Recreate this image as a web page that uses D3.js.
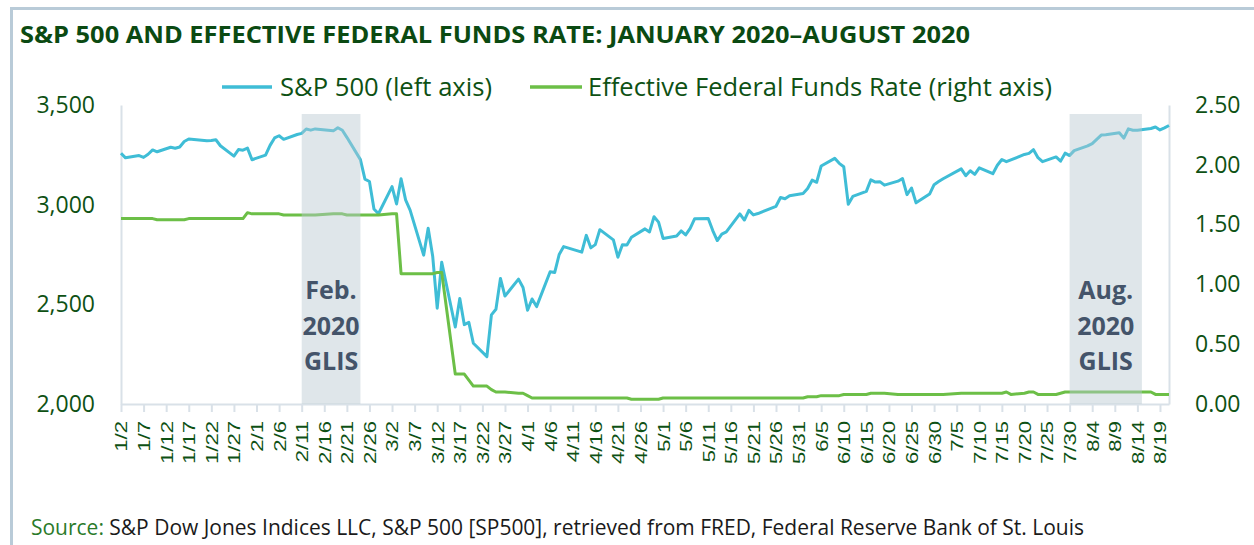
<!DOCTYPE html>
<html>
<head>
<meta charset="utf-8">
<script src="https://cdn.jsdelivr.net/npm/d3@7"></script>
<style>
  html, body { margin: 0; padding: 0; background: #fff; }
  svg { display: block; font-family: "Open Sans", sans-serif; }
</style>
</head>
<body>
<div id="chart"></div>
<script>
// trading days, Jan 2 – Aug 21 2020
const dates = [
  "1/2","1/3","1/6","1/7","1/8","1/9","1/10","1/13","1/14","1/15","1/16","1/17","1/21","1/22","1/23","1/24","1/27","1/28","1/29","1/30","1/31",
  "2/3","2/4","2/5","2/6","2/7","2/10","2/11","2/12","2/13","2/14","2/18","2/19","2/20","2/21","2/24","2/25","2/26","2/27","2/28",
  "3/2","3/3","3/4","3/5","3/6","3/9","3/10","3/11","3/12","3/13","3/16","3/17","3/18","3/19","3/20","3/23","3/24","3/25","3/26","3/27","3/30","3/31",
  "4/1","4/2","4/3","4/6","4/7","4/8","4/9","4/13","4/14","4/15","4/16","4/17","4/20","4/21","4/22","4/23","4/24","4/27","4/28","4/29","4/30",
  "5/1","5/4","5/5","5/6","5/7","5/8","5/11","5/12","5/13","5/14","5/15","5/18","5/19","5/20","5/21","5/22","5/26","5/27","5/28","5/29",
  "6/1","6/2","6/3","6/4","6/5","6/8","6/9","6/10","6/11","6/12","6/15","6/16","6/17","6/18","6/19","6/22","6/23","6/24","6/25","6/26","6/29","6/30",
  "7/1","7/2","7/6","7/7","7/8","7/9","7/10","7/13","7/14","7/15","7/16","7/17","7/20","7/21","7/22","7/23","7/24","7/27","7/28","7/29","7/30","7/31",
  "8/3","8/4","8/5","8/6","8/7","8/10","8/11","8/12","8/13","8/14","8/17","8/18","8/19","8/20","8/21"
];

const sp500 = [
  3257.85,3234.85,3246.28,3237.18,3253.05,3274.70,3265.35,3288.13,3283.15,3289.29,3316.81,3329.62,3320.79,3321.75,3325.54,3295.47,3243.63,3276.24,3273.40,3283.66,3225.52,
  3248.92,3297.59,3334.69,3345.78,3327.71,3352.09,3357.75,3379.45,3373.94,3380.16,3370.29,3386.15,3373.23,3337.75,3225.89,3128.21,3116.39,2978.76,2954.22,
  3090.23,3003.37,3130.12,3023.94,2972.37,2746.56,2882.23,2741.38,2480.64,2711.02,2386.13,2529.19,2398.10,2409.39,2304.92,2237.40,2447.33,2475.56,2630.07,2541.47,2626.65,2584.59,
  2470.50,2526.90,2488.65,2663.68,2659.41,2749.98,2789.82,2761.63,2846.06,2783.36,2799.55,2874.56,2823.16,2736.56,2799.31,2797.80,2836.74,2878.48,2863.39,2939.51,2912.43,
  2830.71,2842.74,2868.44,2848.42,2881.19,2929.80,2930.32,2870.12,2820.00,2852.50,2863.70,2953.91,2922.94,2971.61,2948.51,2955.45,2991.77,3036.13,3029.73,3044.31,
  3055.73,3080.82,3122.87,3112.35,3193.93,3232.39,3207.18,3190.14,3002.10,3041.31,3066.59,3124.74,3113.49,3115.34,3097.74,3117.86,3131.29,3050.33,3083.76,3009.05,3053.24,3100.29,
  3115.86,3130.01,3179.72,3145.32,3169.94,3152.05,3185.04,3155.22,3197.52,3226.56,3215.57,3224.73,3251.84,3257.30,3276.02,3235.66,3215.63,3239.41,3218.44,3258.44,3246.22,3271.12,
  3294.61,3306.51,3327.77,3349.16,3351.28,3360.47,3333.69,3380.35,3373.43,3372.85,3381.99,3389.78,3374.85,3385.51,3397.16
];

const effr = [
  1.55,1.55,1.55,1.55,1.55,1.55,1.54,1.54,1.54,1.54,1.54,1.55,1.55,1.55,1.55,1.55,1.55,1.55,1.55,1.60,1.59,
  1.59,1.59,1.59,1.59,1.58,1.58,1.58,1.58,1.58,1.58,1.59,1.59,1.59,1.58,1.58,1.58,1.58,1.58,1.58,
  1.59,1.59,1.09,1.09,1.09,1.09,1.09,1.09,1.10,1.10,0.25,0.25,0.25,0.20,0.15,0.15,0.12,0.10,0.10,0.10,0.09,0.09,
  0.07,0.05,0.05,0.05,0.05,0.05,0.05,0.05,0.05,0.05,0.05,0.05,0.05,0.05,0.05,0.05,0.04,0.04,0.04,0.04,0.04,
  0.05,0.05,0.05,0.05,0.05,0.05,0.05,0.05,0.05,0.05,0.05,0.05,0.05,0.05,0.05,0.05,0.05,0.05,0.05,0.05,
  0.05,0.06,0.06,0.06,0.07,0.07,0.07,0.08,0.08,0.08,0.08,0.09,0.09,0.09,0.09,0.08,0.08,0.08,0.08,0.08,0.08,0.08,
  0.08,0.08,0.09,0.09,0.09,0.09,0.09,0.09,0.09,0.09,0.10,0.08,0.09,0.10,0.10,0.08,0.08,0.08,0.09,0.10,0.10,0.10,
  0.10,0.10,0.10,0.10,0.10,0.10,0.10,0.10,0.10,0.10,0.10,0.08,0.08,0.08,0.08
];

const xTickLabels = [
  "1/2","1/7","1/12","1/17","1/22","1/27","2/1","2/6","2/11","2/16","2/21","2/26","3/2","3/7","3/12","3/17",
  "3/22","3/27","4/1","4/6","4/11","4/16","4/21","4/26","5/1","5/6","5/11","5/16","5/21","5/26","5/31","6/5",
  "6/10","6/15","6/20","6/25","6/30","7/5","7/10","7/15","7/20","7/25","7/30","8/4","8/9","8/14","8/19"
];
const leftTicks = [2000, 2500, 3000, 3500];
const rightTicks = [0, 0.5, 1, 1.5, 2, 2.5];

const glisStart = ["2/11", "7/30"];
const glisEnd = ["2/24", "8/15"];
const glisLabel = [["Feb.", "2020", "GLIS"], ["Aug.", "2020", "GLIS"]];

const toDate = s => { const [m, d] = s.split("/").map(Number); return new Date(2020, m - 1, d); };

const W = 1254, H = 545;
const plot = { left: 121, right: 1169, top: 105, bottom: 404 };
const txt = "#0e5114";

const svg = d3.select("#chart").append("svg").attr("width", W).attr("height", H);
svg.append("rect").attr("width", W).attr("height", H).attr("fill", "#fff");

// frame
svg.append("path").attr("d", `M11.5,${H + 5} V8.5 H${W + 5}`)
  .attr("fill", "none").attr("stroke", "#b9cbd8").attr("stroke-width", 3);

svg.append("text").attr("x", 20).attr("y", 43)
  .attr("font-size", 24).attr("font-weight", 700).attr("fill", "#0b4a12")
  .attr("textLength", 950).attr("lengthAdjust", "spacingAndGlyphs")
  .text("S&P 500 AND EFFECTIVE FEDERAL FUNDS RATE: JANUARY 2020\u2013AUGUST 2020");

const x = d3.scaleTime().domain([toDate("1/2"), toDate("8/21")]).range([plot.left, plot.right]);
const yL = d3.scaleLinear().domain([2000, 3500]).range([plot.bottom, plot.top]);
const yR = d3.scaleLinear().domain([0, 2.5]).range([plot.bottom, plot.top]);

// axes
const axisColor = "#d9e1e8";
const gx = svg.append("g").attr("transform", `translate(0,${plot.bottom})`)
  .call(d3.axisBottom(x).tickValues(xTickLabels.map(toDate)).tickSize(8).tickSizeOuter(0).tickFormat(""));
gx.select(".domain").attr("stroke", axisColor).attr("stroke-width", 2);
gx.selectAll(".tick line").attr("stroke", axisColor).attr("stroke-width", 2);
gx.selectAll(".tick").append("text")
  .attr("transform", "translate(0,17) rotate(-90) scale(1.3,1)")
  .attr("text-anchor", "end").attr("dy", "0.35em")
  .attr("font-size", 17).attr("fill", txt)
  .text((d, i) => xTickLabels[i]);

const gl = svg.append("g").attr("transform", `translate(${plot.left},0)`)
  .call(d3.axisLeft(yL).tickValues(leftTicks).tickSize(0).tickPadding(26).tickFormat(d3.format(",")));
gl.select(".domain").attr("stroke", axisColor).attr("stroke-width", 2);
gl.selectAll("text").attr("font-size", 23).attr("fill", txt).attr("font-family", "Open Sans, sans-serif");

const gr = svg.append("g").attr("transform", `translate(${plot.right},0)`)
  .call(d3.axisRight(yR).tickValues(rightTicks).tickSize(0).tickPadding(26).tickFormat(d3.format(".2f")));
gr.select(".domain").attr("stroke", axisColor).attr("stroke-width", 2);
gr.selectAll("text").attr("font-size", 23).attr("fill", txt).attr("font-family", "Open Sans, sans-serif");

// lines
const dts = dates.map(toDate);
const blue = "#3fbdd6", green = "#6cbf47";
svg.append("path").datum(sp500)
  .attr("d", d3.line().x((d, i) => x(dts[i])).y(d => yL(d)))
  .attr("fill", "none").attr("stroke", blue).attr("stroke-width", 3).attr("stroke-linejoin", "round");
svg.append("path").datum(effr)
  .attr("d", d3.line().x((d, i) => x(dts[i])).y(d => yR(d)))
  .attr("fill", "none").attr("stroke", green).attr("stroke-width", 3).attr("stroke-linejoin", "round");

// GLIS shading
glisStart.forEach((s, i) => {
  const x0 = x(toDate(s)), x1 = x(toDate(glisEnd[i]));
  svg.append("rect").attr("x", x0).attr("y", 114).attr("width", x1 - x0).attr("height", plot.bottom - 114)
    .attr("fill", "#b8c7d1").attr("fill-opacity", 0.45);
  glisLabel[i].forEach((t, j) => {
    svg.append("text").attr("x", (x0 + x1) / 2).attr("y", 299 + j * 35.5)
      .attr("text-anchor", "middle").attr("font-size", 25).attr("font-weight", 700)
      .attr("fill", "#44546a").text(t);
  });
});

// legend
const leg = [
  { x1: 222, x2: 272, tx: 280, len: 212, color: blue, label: "S&P 500 (left axis)" },
  { x1: 530, x2: 582, tx: 588, len: 464, color: green, label: "Effective Federal Funds Rate (right axis)" }
];
leg.forEach(l => {
  svg.append("line").attr("x1", l.x1).attr("x2", l.x2).attr("y1", 87).attr("y2", 87)
    .attr("stroke", l.color).attr("stroke-width", 3.5);
  svg.append("text").attr("x", l.tx).attr("y", 96).attr("font-size", 25).attr("fill", txt)
    .attr("textLength", l.len).attr("lengthAdjust", "spacingAndGlyphs").text(l.label);
});

// source
const src = svg.append("text").attr("x", 31).attr("y", 535).attr("font-size", 21)
  .attr("textLength", 1053).attr("lengthAdjust", "spacingAndGlyphs");
src.append("tspan").attr("fill", "#2a7a2a").text("Source: ");
src.append("tspan").attr("fill", "#1a1a1a")
  .text("S&P Dow Jones Indices LLC, S&P 500 [SP500], retrieved from FRED, Federal Reserve Bank of St. Louis");
</script>
</body>
</html>
